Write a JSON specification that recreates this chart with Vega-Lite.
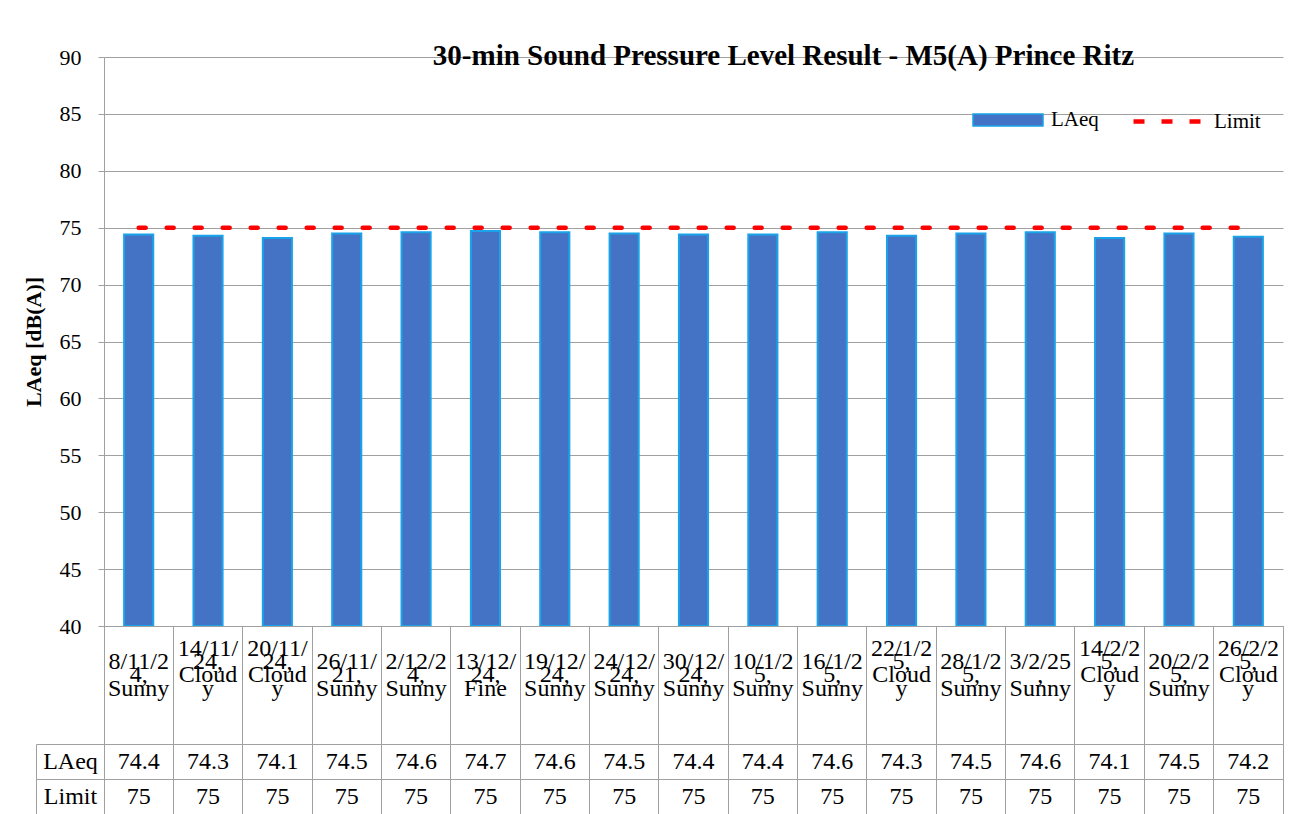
{
  "$schema": "https://vega.github.io/schema/vega-lite/v6.json",
  "padding": {"left": 22, "top": 42, "right": 0, "bottom": 0},
  "background": "white",
  "config": {
    "font": "Liberation Serif",
    "view": {"stroke": "#A0A0A0"},
    "axis": {"labelColor": "black", "titleColor": "black", "domainColor": "#A0A0A0", "tickColor": "#A0A0A0", "gridColor": "#A0A0A0", "labelFont": "Liberation Serif", "titleFont": "Liberation Serif"},
    "legend": {"labelFont": "Liberation Serif", "labelColor": "black"}
  },
  "datasets": {
    "t": [
      {"cat": "8/11/24, Sunny", "LAeq": 74.4, "Limit": 75},
      {"cat": "14/11/24, Cloudy", "LAeq": 74.3, "Limit": 75},
      {"cat": "20/11/24, Cloudy", "LAeq": 74.1, "Limit": 75},
      {"cat": "26/11/21, Sunny", "LAeq": 74.5, "Limit": 75},
      {"cat": "2/12/24, Sunny", "LAeq": 74.6, "Limit": 75},
      {"cat": "13/12/24, Fine", "LAeq": 74.7, "Limit": 75},
      {"cat": "19/12/24, Sunny", "LAeq": 74.6, "Limit": 75},
      {"cat": "24/12/24, Sunny", "LAeq": 74.5, "Limit": 75},
      {"cat": "30/12/24, Sunny", "LAeq": 74.4, "Limit": 75},
      {"cat": "10/1/25, Sunny", "LAeq": 74.4, "Limit": 75},
      {"cat": "16/1/25, Sunny", "LAeq": 74.6, "Limit": 75},
      {"cat": "22/1/25, Cloudy", "LAeq": 74.3, "Limit": 75},
      {"cat": "28/1/25, Sunny", "LAeq": 74.5, "Limit": 75},
      {"cat": "3/2/25, Sunny", "LAeq": 74.6, "Limit": 75},
      {"cat": "14/2/25, Cloudy", "LAeq": 74.1, "Limit": 75},
      {"cat": "20/2/25, Sunny", "LAeq": 74.5, "Limit": 75},
      {"cat": "26/2/25, Cloudy", "LAeq": 74.2, "Limit": 75}
    ]
  },
  "bounds": "flush",
  "spacing": 0,
  "vconcat": [
    {
      "width": 1179,
      "height": 569,
      "view": {"stroke": null},
      "title": {"text": "30-min Sound Pressure Level Result - M5(A) Prince Ritz", "offset": -25, "dx": 90, "fontSize": 29, "fontWeight": "bold", "color": "black"},
      "data": {"name": "t"},
      "encoding": {
        "x": {
          "field": "cat", "type": "nominal", "sort": null,
          "scale": {"paddingInner": 0, "paddingOuter": 0},
          "axis": null
        }
      },
      "layer": [
        {
          "mark": {"type": "bar", "width": {"band": 0.42}, "stroke": "#1AA3E8", "strokeWidth": 2},
          "encoding": {
            "y": {"field": "LAeq", "type": "quantitative", "scale": {"domain": [40, 90], "nice": false, "zero": false},
              "axis": {"title": "LAeq [dB(A)]", "titleFontSize": 22, "titleFontWeight": "bold", "titlePadding": 14, "values": [40, 45, 50, 55, 60, 65, 70, 75, 80, 85, 90], "labelFontSize": 22, "labelPadding": 17, "tickSize": 6, "grid": true}},
            "y2": {"datum": 40},
            "fill": {"datum": "LAeq", "type": "nominal", "scale": {"range": ["#4472C4"]},
              "legend": {"title": null, "orient": "none", "legendX": 868, "legendY": 27, "symbolType": "M-1,-0.17H1V0.17H-1Z", "symbolSize": 4900, "symbolStrokeColor": "#1AA3E8", "symbolStrokeWidth": 1.5, "symbolOpacity": 1, "labelFontSize": 21, "labelOffset": 7}}
          }
        },
        {
          "mark": {"type": "line", "strokeDash": [7, 21], "strokeWidth": 4.5, "strokeCap": "round"},
          "encoding": {
            "y": {"field": "Limit", "type": "quantitative"},
            "stroke": {"datum": "Limit", "type": "nominal", "scale": {"range": ["#FF0000"]},
              "legend": {"title": null, "orient": "none", "legendX": 1027, "legendY": 27, "symbolType": "stroke", "symbolSize": 4900, "symbolStrokeWidth": 4.5, "symbolDash": [11, 17], "symbolOpacity": 1, "labelFontSize": 21, "labelOffset": 8}}
          }
        }
      ]
    },
    {
      "width": 1179,
      "height": 118,
      "data": {"name": "t"},
      "mark": {"type": "point", "opacity": 0},
      "encoding": {
        "x": {
          "field": "cat", "type": "nominal", "sort": null,
          "scale": {"type": "band", "paddingInner": 0, "paddingOuter": 0},
          "axis": {"title": null, "labelAngle": 0, "bandPosition": 0, "ticks": false, "domain": false, "grid": true,
            "labelExpr": "length(datum.value) - indexof(datum.value, ',') - 2 > 5 ? [substring(datum.value, 0, 6), '\u00a0', substring(datum.value, 6, indexof(datum.value, ',') + 1), '\u00a0', substring(datum.value, indexof(datum.value, ',') + 2, indexof(datum.value, ',') + 7), '\u00a0', substring(datum.value, indexof(datum.value, ',') + 7)] : ['\u00a0', substring(datum.value, 0, 6), '\u00a0', substring(datum.value, 6, indexof(datum.value, ',') + 1), '\u00a0', substring(datum.value, indexof(datum.value, ',') + 2)]",
            "labelFontSize": 24, "labelLineHeight": 13.35, "labelBaseline": "middle", "labelAlign": "center", "labelPadding": -96, "labelOverlap": false
          }
        }
      }
    },
    {
      "width": 1179,
      "height": 70,
      "data": {"name": "t"},
      "transform": [{"fold": ["LAeq", "Limit"], "as": ["row", "value"]}],
      "encoding": {
        "x": {"field": "cat", "type": "nominal", "sort": null, "scale": {"type": "band", "paddingInner": 0, "paddingOuter": 0},
          "axis": {"title": null, "labels": false, "ticks": false, "domain": false, "grid": true, "bandPosition": 0}}
      },
      "layer": [
        {
          "mark": {"type": "text", "fontSize": 24, "color": "black"},
          "encoding": {
            "y": {"field": "row", "type": "nominal", "sort": ["LAeq", "Limit"], "scale": {"type": "band", "paddingInner": 0, "paddingOuter": 0},
              "axis": {"title": null, "orient": "left", "labelFontSize": 24, "bandPosition": 0, "tickSize": 68, "labelAlign": "center", "labelPadding": -34, "grid": true}},
            "text": {"field": "value", "type": "quantitative"}
          }
        },
        {
          "mark": {"type": "text", "opacity": 0},
          "encoding": {
            "y": {"field": "row", "type": "nominal", "sort": ["LAeq", "Limit"], "scale": {"type": "band", "paddingInner": 0, "paddingOuter": 0},
              "axis": {"title": null, "orient": "left", "offset": 68, "labels": false, "ticks": false, "grid": false, "domain": true}}
          }
        }
      ],
      "resolve": {"axis": {"y": "independent"}}
    }
  ]
}
